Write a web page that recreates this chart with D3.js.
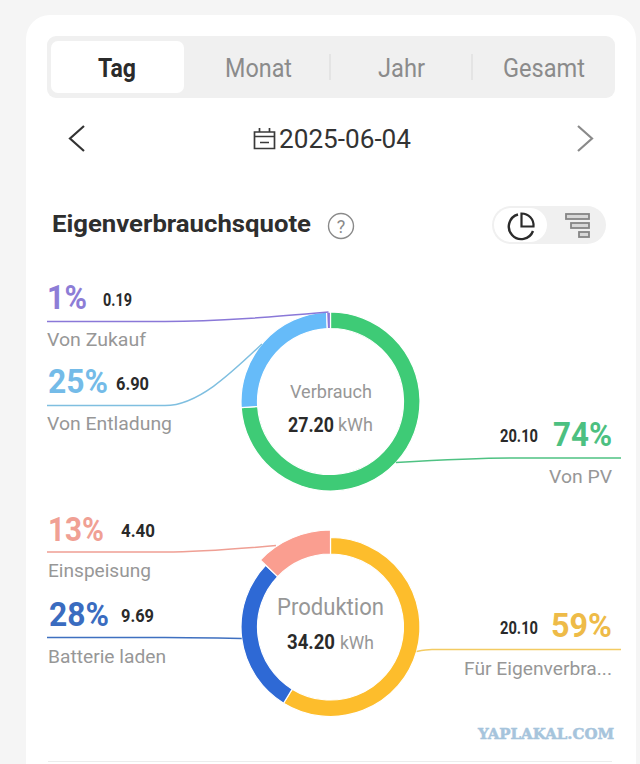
<!DOCTYPE html>
<html><head><meta charset="utf-8">
<style>html,body{margin:0;padding:0;background:#f5f5f5;overflow:hidden}svg{display:block;font-family:Roboto,sans-serif}</style>
<script src="https://cdn.jsdelivr.net/npm/d3@7"></script></head><body>
<svg id="c" width="640" height="764"></svg>
<script>
const tabs = ["Tag", "Monat", "Jahr", "Gesamt"];
const dateLabel = "2025-06-04";
const chartTitle = "Eigenverbrauchsquote";
const useNames = ["Von PV", "Von Entladung", "Von Zukauf"];
const useValues = [20.10, 6.90, 0.19];
const usePercents = ["74%", "25%", "1%"];
const prodNames = ["Für Eigenverbra...", "Batterie laden", "Einspeisung"];
const prodValues = [20.10, 9.69, 4.40];
const prodPercents = ["59%", "28%", "13%"];
const centers = [["Verbrauch", "27.20"], ["Produktion", "34.20"]];
const unit = "kWh";
const watermark = "YAPLAKAL.COM";

const svg = d3.select("#c");
function T(s, x, y, size, color, weight, width, anchor) {
  const t = svg.append("text").attr("x", x).attr("y", y).attr("font-size", size)
    .attr("fill", color).attr("font-weight", weight || 400).attr("text-anchor", anchor || "start").text(s);
  if (width) t.attr("textLength", width).attr("lengthAdjust", "spacingAndGlyphs");
  return t;
}
// card
svg.append("rect").attr("x", 26).attr("y", 15).attr("width", 610).attr("height", 780).attr("rx", 24).attr("fill", "#fff");
// tabs
svg.append("rect").attr("x", 47).attr("y", 36).attr("width", 568).attr("height", 62).attr("rx", 9).attr("fill", "#f0f0f0");
svg.append("rect").attr("x", 51).attr("y", 41).attr("width", 133).attr("height", 52).attr("rx", 7).attr("fill", "#fff");
const tabLay = [[98, 38], [225, 67], [378, 47], [503, 82]];
tabs.forEach((s, i) => T(s, tabLay[i][0], 77, 25, i ? "#8b8b8b" : "#2b2b2b", i ? 400 : 700, tabLay[i][1]));
[330, 472].forEach(x => svg.append("line").attr("x1", x).attr("x2", x).attr("y1", 54).attr("y2", 80).attr("stroke", "#dcdcdc").attr("stroke-width", 1.2));
// date row
svg.append("path").attr("d", "M84 126L70 138.5L84 151").attr("fill", "none").attr("stroke", "#333").attr("stroke-width", 2.2);
svg.append("path").attr("d", "M578 126L592 138.5L578 151").attr("fill", "none").attr("stroke", "#8a8a8a").attr("stroke-width", 2.2);
svg.append("path").attr("d", "M254.500 132H274.500V148.500H254.500ZM254.500 136.500H274.500M259.500 128V132M269.500 128V132M260 142.500H269").attr("fill", "none").attr("stroke", "#3a3a3a").attr("stroke-width", 1.7);
T(dateLabel, 279, 148, 25, "#333", 400, 132);
// title
T(chartTitle, 52, 232, 24, "#2e2e2e", 700, 259);
svg.append("circle").attr("cx", 341).attr("cy", 226).attr("r", 12.500).attr("fill", "none").attr("stroke", "#8a8a8a").attr("stroke-width", 1.4);
T("?", 341, 233, 18, "#8a8a8a", 400, null, "middle");
// toggle
svg.append("rect").attr("x", 492).attr("y", 206).attr("width", 114).attr("height", 38).attr("rx", 19).attr("fill", "#f0f0f0");
svg.append("rect").attr("x", 494).attr("y", 208).attr("width", 53).attr("height", 34).attr("rx", 17).attr("fill", "#fff");
svg.append("path").attr("d", "M518 214.500A12.500 12.500 0 1 0 533 231").attr("fill", "none").attr("stroke", "#2b2b2b").attr("stroke-width", 2.4);
svg.append("path").attr("d", "M521.500 213.500A12 12 0 0 1 533.500 226.500H521.500Z").attr("fill", "none").attr("stroke", "#2b2b2b").attr("stroke-width", 2.2);
[[566, 23, 214, 5], [571, 18, 223, 5], [579, 10, 232, 5]].forEach(b =>
  svg.append("rect").attr("x", b[0]).attr("y", b[2]).attr("width", b[1]).attr("height", b[3]).attr("fill", "#d8d8d8").attr("stroke", "#858585").attr("stroke-width", 1.8));

// donuts
const R = 89.5, r0 = 73;
const pie = d3.pie().sort(null).value(d => d);
function donut(cx, cy, values, colors, radii) {
  const g = svg.append("g").attr("transform", `translate(${cx},${cy})`);
  const arcs = pie(values);
  g.selectAll("path").data(arcs).join("path")
    .attr("d", (d, i) => d3.arc().innerRadius(r0).outerRadius(radii[i])(d))
    .attr("fill", (d, i) => colors[i]).attr("stroke", "#fff").attr("stroke-width", 1.2);
  return arcs;
}
const line = d3.line().curve(d3.curveMonotoneX);
function leader(endX, elbowX, y, to, color) {
  const pts = endX < to[0] ? [[endX, y], [elbowX, y], to] : [to, [elbowX, y], [endX, y]];
  svg.append("path").attr("d", line(pts)).attr("fill", "none").attr("stroke", color).attr("stroke-width", 1.5);
}
function pt(cx, cy, arc, f, rad) {
  const a = arc.startAngle + (arc.endAngle - arc.startAngle) * f;
  return [cx + Math.sin(a) * rad, cy - Math.cos(a) * rad];
}
const cx = 330.5, cy1 = 401.5, cy2 = 627;
const useCol = ["#3ecb76", "#66bbf9", "#8a78d8"];
const prodCol = ["#fdbd2c", "#2e69d5", "#fa9e90"];
const a1 = donut(cx, cy1, useValues, useCol, [R, R, R]);
const a2 = donut(cx, cy2, prodValues, prodCol, [R, R, 97]);

leader(47, 165, 321.500, pt(cx, cy1, a1[2], 0.5, R), "#8a78d8");
leader(47, 165, 405.500, pt(cx, cy1, a1[1], 0.48, R), "#7fbfe0");
leader(621, 510, 458, pt(cx, cy1, a1[0], 0.5, R), "#4fc283");
leader(47, 165, 552, pt(cx, cy2, a2[2], 0.27, 98), "#ef9f94");
leader(47, 165, 637.500, pt(cx, cy2, a2[1], 0.5, R), "#3f70c0");
leader(621, 432, 649.500, pt(cx, cy2, a2[0], 0.5, R), "#f3cb62");

// labels: [pct x, pct w, pct base, val x, val w, val base, name x, name w, name base]
const BOLD = "#2a2a2a", GREY = "#979797";
function item(pct, val, name, col, l) {
  T(pct, l[0], l[2], 34, col, 700, l[1]);
  T(val.toFixed(2), l[3], l[5], 18, BOLD, 700, l[4]);
  T(name, l[6], l[8], 19, GREY, 400, l[7]);
}
const pctCol1 = ["#4cc081", "#74bbe8", "#8d7dd6"];
const pctCol2 = ["#eebb48", "#3a6cc0", "#f0a094"];
item(usePercents[2], useValues[2], useNames[2], pctCol1[2], [47, 40, 309, 103, 29, 306, 47, 99, 346]);
item(usePercents[1], useValues[1], useNames[1], pctCol1[1], [48, 60, 393, 116, 33, 390, 47, 125, 430]);
item(usePercents[0], useValues[0], useNames[0], pctCol1[0], [553, 59, 446, 500, 38, 442, 549, 63, 483]);
item(prodPercents[2], prodValues[2], prodNames[2], pctCol2[2], [48, 56, 541, 121, 34, 537, 48, 103, 577]);
item(prodPercents[1], prodValues[1], prodNames[1], pctCol2[1], [49, 60, 626, 121, 33, 622, 48, 118, 663]);
item(prodPercents[0], prodValues[0], prodNames[0], pctCol2[0], [551, 61, 637, 500, 38, 634, 464, 148, 675]);

// centres
T(centers[0][0], 290, 398, 19, GREY, 400, 82);
T(centers[0][1], 288, 432, 20, BOLD, 700, 46);
T(unit, 338, 431, 18, GREY, 400, 35);
T(centers[1][0], 277, 615, 23, GREY, 400, 107);
T(centers[1][1], 287, 649, 20, BOLD, 700, 48);
T(unit, 340, 649, 18, GREY, 400, 34);

// footer
svg.append("line").attr("x1", 48).attr("x2", 612).attr("y1", 761.500).attr("y2", 761.500).attr("stroke", "#ececec").attr("stroke-width", 1.2);
T(watermark, 478, 739, 14, "#a6c4dc", 700, 136).attr("font-family", "'DejaVu Serif',serif").attr("stroke", "#a6c4dc").attr("stroke-width", 0.5);
</script></body></html>
